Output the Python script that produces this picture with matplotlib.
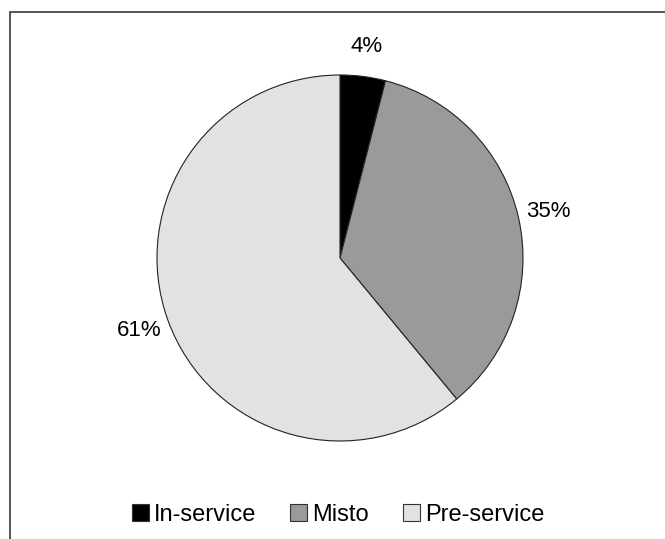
import matplotlib.pyplot as plt
from matplotlib.patches import Rectangle, Patch

categorias = ['In-service', 'Misto', 'Pre-service']
valores = [4, 35, 61]
cores = ['#000000', '#9a9a9a', '#e2e2e2']

plt.rcParams['font.family'] = ['Liberation Sans', 'DejaVu Sans']

fig = plt.figure(figsize=(6.65, 5.39), dpi=100)

# borda do grafico (cortada a direita e embaixo)
borda = Rectangle((9.5 / 665, -0.1), 1.2, 1.1 - 11.5 / 539,
                  transform=fig.transFigure, fill=False,
                  edgecolor='#555555', lw=1.4, clip_on=False)
fig.patches.append(borda)

cx, cy, r = 340, 539 - 258, 183
ax = fig.add_axes([(cx - r) / 665, (cy - r) / 539, 2 * r / 665, 2 * r / 539])
ax.pie(valores, colors=cores, startangle=90, counterclock=False,
       autopct='%1.0f%%', pctdistance=1.165, radius=1,
       wedgeprops=dict(edgecolor='#222222', linewidth=0.8),
       textprops=dict(fontsize=16, color='black'))
ax.set_xlim(-1, 1)
ax.set_ylim(-1, 1)
ax.set_aspect('equal')
ax.axis('off')

handles = [Patch(facecolor=c, edgecolor='#333333', lw=0.8) for c in cores]
fig.legend(handles, categorias, loc='center', bbox_to_anchor=(338 / 665, 24 / 539),
           ncol=3, frameon=False, fontsize=17, handlelength=0.72,
           handleheight=0.72, handletextpad=0.2, columnspacing=1.45,
           borderpad=0, borderaxespad=0)

fig.savefig('out.png', dpi=100)
